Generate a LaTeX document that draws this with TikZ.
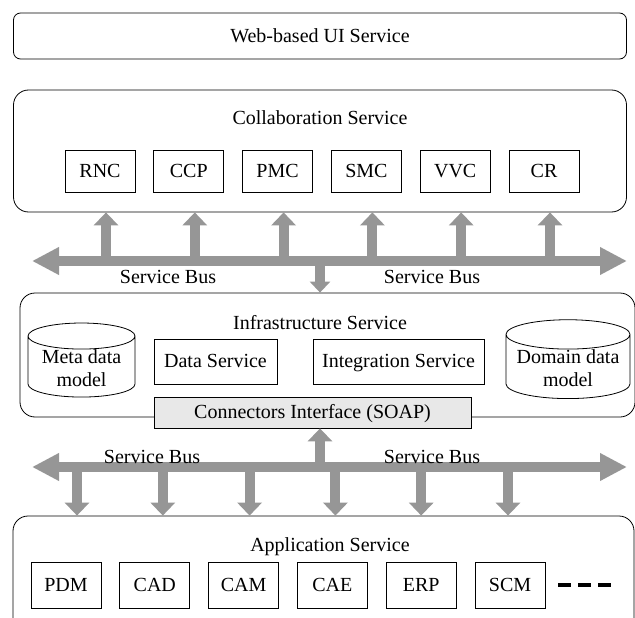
\documentclass[tikz,border=0pt]{standalone}
\usepackage{fontspec}
\setmainfont{Liberation Serif}
\usetikzlibrary{positioning, arrows.meta, shapes.geometric}
\definecolor{busgray}{RGB}{150,150,150}
\definecolor{ifacegray}{RGB}{232,232,232}

\begin{document}
\begin{tikzpicture}[x=1pt,y=-1pt,node distance=18pt,
  font=\fontsize{20}{23}\selectfont,
  layer/.style={draw,rounded corners=15pt,line width=0.8pt},
  mod/.style={draw,line width=0.8pt,minimum width=70pt,minimum height=42pt,inner sep=0pt,text height=15pt,text depth=3pt},
  db/.style={draw,cylinder,shape border rotate=90,aspect=0.32,align=center,line width=0.8pt,inner xsep=1pt,inner ysep=0pt},
  bus/.style={busgray,line width=10pt,{Triangle[width=26pt,length=27pt]}-{Triangle[width=26pt,length=27pt]}},
  link/.style={busgray,line width=10pt,-{Triangle[width=24pt,length=13pt]}},
  dots/.style={line width=3.5pt,dash pattern=on 13pt off 7pt}]
  \clip (0,0) rectangle (635,618);

  % UI layer
  \node[layer,rounded corners=7pt,minimum width=613pt,minimum height=46pt] (web) at (320,36) {Web-based UI Service};

  % collaboration layer
  \node[layer,minimum width=613pt,minimum height=122pt] (collab) at (320,151) {};
  \node (collabT) at (320,118) {Collaboration Service};
  \node[mod] (RNC) at (100,171) {RNC};
  \node[mod,right=of RNC] (CCP) {CCP};
  \node[mod,right=of CCP] (PMC) {PMC};
  \node[mod,right=of PMC] (SMC) {SMC};
  \node[mod,right=of SMC] (VVC) {VVC};
  \node[mod,right=of VVC] (CR) {CR};

  % upper bus
  \coordinate (b1L) at (32,261);
  \coordinate (b1R) at (627,261);
  \coordinate (b1C) at (320,261);
  \draw[bus] (b1L) -- (b1R);
  \foreach \m in {RNC,CCP,PMC,SMC,VVC,CR}
    \draw[link] ([xshift=6pt]\m |- b1L) -- ([xshift=6pt]\m |- collab.south);
  \node (bus1a) at (168,277) {Service Bus};
  \node (bus1b) at (432,277) {Service Bus};

  % infrastructure layer
  \node[layer,minimum width=615pt,minimum height=124pt] (infra) at (327.5,355) {};
  \draw[link,-{Triangle[width=20pt,length=11pt]}] (b1C) -- (b1C |- infra.north);
  \node (infraT) at (320,323) {Infrastructure Service};
  \node[db,minimum width=107pt,minimum height=56pt] (meta) at (81.5,368) {Meta data\\model};
  \node[mod,minimum width=123pt,minimum height=45pt] (data) at (215.5,361.5) {Data Service};
  \node[mod,minimum width=171pt,minimum height=45pt] (integ) at (398.5,361.5) {Integration Service};
  \node[db,minimum width=124pt,minimum height=56pt,aspect=0.28] (domain) at (568,368) {Domain data\\model};
  \node[mod,fill=ifacegray,minimum width=317pt,minimum height=31pt] (iface) at (312.5,412.5) {Connectors Interface (SOAP)};

  % lower bus
  \coordinate (b2L) at (32,467);
  \coordinate (b2R) at (627,467);
  \coordinate (b2C) at (320,467);
  \draw[bus] (b2L) -- (b2R);
  \draw[link] (b2C) -- (b2C |- iface.south);
  \node (bus2a) at (152,457) {Service Bus};
  \node (bus2b) at (432,457) {Service Bus};

  % application layer
  \node[layer,minimum width=621pt,minimum height=124pt] (app) at (323.5,578) {};
  \node (appT) at (330,547) {Application Service};
  \node[mod,minimum height=46pt] (PDM) at (66,585) {PDM};
  \node[mod,minimum height=46pt,right=of PDM] (CAD) {CAD};
  \node[mod,minimum height=46pt,right=of CAD] (CAM) {CAM};
  \node[mod,minimum height=46pt,right=of CAM] (CAE) {CAE};
  \node[mod,minimum height=46pt,right=of CAE] (ERP) {ERP};
  \node[mod,minimum height=46pt,right=of ERP] (SCM) {SCM};
  \foreach \m/\d in {PDM/11,CAD/8,CAM/6,CAE/3,ERP/0,SCM/-2}
    \draw[link] ([xshift=\d pt]\m |- b2L) -- ([xshift=\d pt]\m |- app.north);
  \draw[dots] ([xshift=13pt]SCM.east) -- ([xshift=67pt]SCM.east);
\end{tikzpicture}
\end{document}
